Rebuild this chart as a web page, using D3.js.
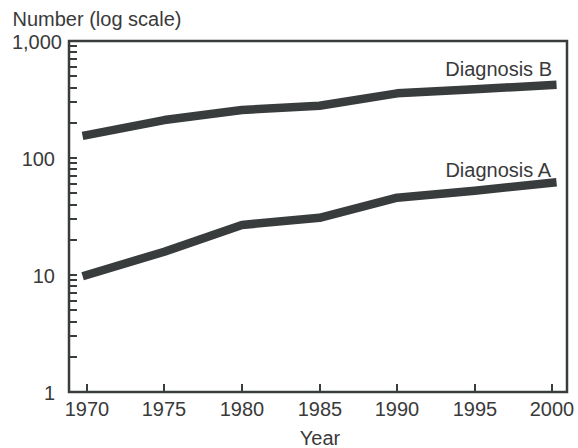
<!DOCTYPE html>
<html>
<head>
<meta charset="utf-8">
<script src="https://cdn.jsdelivr.net/npm/d3@7"></script>
<style>
  html, body { margin: 0; padding: 0; background: #fff; }
  svg { display: block; }
  text { font-family: "Liberation Sans", Arial, Helvetica, sans-serif; fill: #3a3a3a; }
</style>
</head>
<body>
<svg id="chart" width="578" height="448"></svg>
<script>
const years = [1970, 1975, 1980, 1985, 1990, 1995, 2000];
const diagnosisA = [10, 15.8, 26.8, 30.8, 45.8, 52.5, 61.5];
const diagnosisB = [157, 211, 257, 280, 357, 387, 421];
const seriesNames = ["Diagnosis A", "Diagnosis B"];
const yTickValues = [1, 10, 100, 1000];
const yTickLabels = ["1", "10", "100", "1,000"];
const xTickValues = [1970, 1975, 1980, 1985, 1990, 1995, 2000];

const ink = "#393c3d";
const textInk = "#3a3a3a";
const fontSize = 20;
const frame = { left: 69, right: 567, top: 41, bottom: 392 };

const svg = d3.select("#chart");

const x = d3.scaleLinear().domain([1970, 2000]).range([86.7, 552.3]);
const y = d3.scaleLog().domain([1, 1000]).range([frame.bottom, frame.top]);

// minor ticks (2..9 each decade) inside left axis
const minorTicks = [];
for (let d = 1; d < 1000; d *= 10) for (let k = 1; k <= 9; k++) minorTicks.push(d * k);
minorTicks.push(1000);

const yMinor = svg.append("g").attr("transform", `translate(${frame.left},0)`)
  .call(d3.axisLeft(y).tickValues(minorTicks).tickSize(-8).tickFormat("").offset(0));
yMinor.select(".domain").remove();
yMinor.selectAll(".tick").attr("transform", d => `translate(0,${Math.round(y(d))})`);
yMinor.selectAll("line").attr("stroke", ink).attr("stroke-width", 2);

// major labels
const yMajor = svg.append("g").attr("transform", `translate(${frame.left},0)`)
  .call(d3.axisLeft(y).tickValues(yTickValues).tickSize(0).tickPadding(14)
    .tickFormat((d, i) => yTickLabels[i]));
yMajor.select(".domain").remove();
yMajor.selectAll("text").attr("font-size", fontSize).attr("dy", "0.37em")
  .style("font-family", "'Liberation Sans', Arial, sans-serif").attr("fill", textInk);
yMajor.selectAll("text").filter(d => d === 1000).attr("x", -7);

// x axis
const xAxis = svg.append("g").attr("transform", `translate(0,${frame.bottom})`)
  .call(d3.axisBottom(x).tickValues(xTickValues).tickSize(-8).tickPadding(10).tickFormat(d3.format("d")).offset(0));
xAxis.select(".domain").remove();
xAxis.selectAll(".tick").attr("transform", d => `translate(${Math.round(x(d))},0)`);
xAxis.selectAll("line").attr("stroke", ink).attr("stroke-width", 2);
xAxis.selectAll("text").attr("font-size", fontSize)
  .style("font-family", "'Liberation Sans', Arial, sans-serif").attr("fill", textInk);

// frame
svg.append("rect")
  .attr("x", frame.left).attr("y", frame.top)
  .attr("width", frame.right - frame.left).attr("height", frame.bottom - frame.top)
  .attr("fill", "none").attr("stroke", ink).attr("stroke-width", 2.5);

// lines
const line = d3.line().x((d, i) => x(years[i])).y(d => y(d));
[diagnosisA, diagnosisB].forEach(s => {
  svg.append("path").datum(s).attr("d", line)
    .attr("fill", "none").attr("stroke", ink).attr("stroke-width", 8.5)
    .attr("stroke-linecap", "square").attr("stroke-linejoin", "round");
});

// series labels
svg.append("text").attr("x", 551).attr("y", 176.5).attr("text-anchor", "end")
  .attr("font-size", fontSize).text(seriesNames[0]);
svg.append("text").attr("x", 552).attr("y", 75.5).attr("text-anchor", "end")
  .attr("font-size", fontSize).text(seriesNames[1]);

// axis titles
svg.append("text").attr("x", 12.5).attr("y", 26).attr("font-size", fontSize).text("Number (log scale)");
svg.append("text").attr("x", (frame.left + frame.right) / 2 + 2).attr("y", 445)
  .attr("text-anchor", "middle").attr("font-size", fontSize).text("Year");
</script>
</body>
</html>
